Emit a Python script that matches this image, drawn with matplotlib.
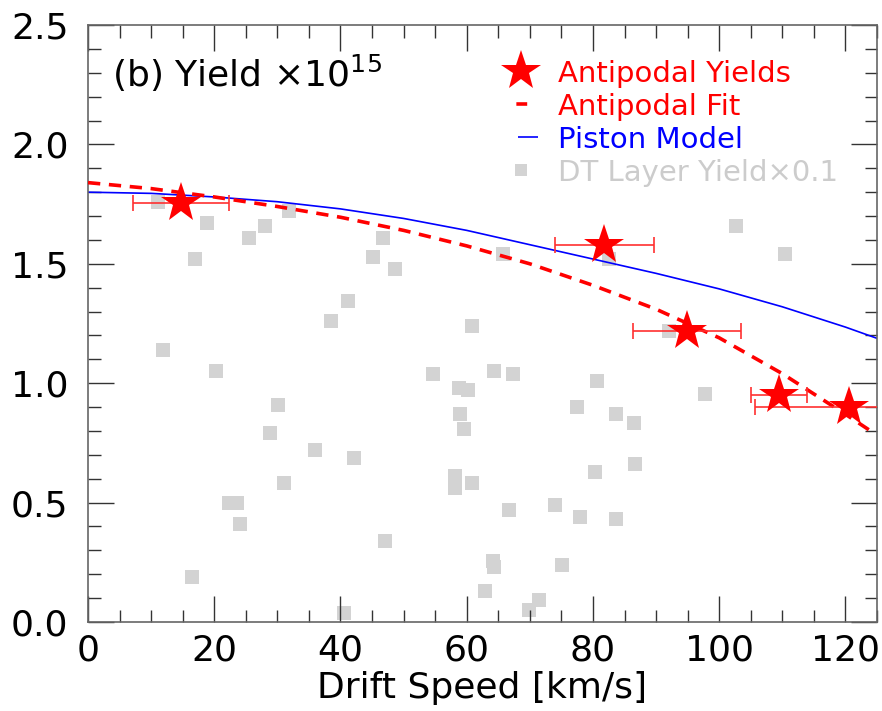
import matplotlib
matplotlib.use("Agg")
import matplotlib.pyplot as plt
from matplotlib.lines import Line2D
from matplotlib.ticker import MultipleLocator

plt.rcParams["font.family"] = ["DejaVu Sans"]
plt.rcParams["mathtext.fontset"] = "dejavusans"

# Antipodal yields (x1e15) with drift speed error bars
star_speed = [14.8, 81.8, 94.9, 109.5, 120.5]
star_yield = [1.753, 1.579, 1.22, 0.95, 0.90]
star_speed_err = [7.6, 7.8, 8.6, 4.4, 14.8]

# Antipodal fit
fit_speed = [0, 10, 20, 30, 40, 50, 60, 70, 80, 90, 100, 110, 120, 124]
fit_yield = [1.84, 1.815, 1.78, 1.74, 1.695, 1.64, 1.575, 1.50, 1.41, 1.31,
             1.19, 1.04, 0.87, 0.80]

# Piston model curve
piston_speed = [0, 10, 20, 30, 40, 50, 60, 70, 80, 90, 100, 110, 120, 125]
piston_yield = [1.80, 1.795, 1.78, 1.76, 1.73, 1.69, 1.64, 1.58, 1.52, 1.46,
                1.395, 1.32, 1.235, 1.188]

# DT layer yield x0.1 (grey squares)
dt_speed = [11.1, 11.9, 16.9, 18.9, 20.2, 16.5, 22.3, 23.6, 24.1, 25.5, 28.0,
            31.9, 28.8, 30.1, 31.0, 35.9, 38.5, 41.2, 42.1, 40.6, 45.1, 46.8,
            48.6, 47.0, 54.6, 58.8, 60.2, 58.9, 59.5, 60.9, 58.2, 58.1, 60.9,
            62.9, 64.1, 64.4, 64.3, 65.8, 66.7, 67.4, 69.8, 71.5, 74.0, 75.1,
            77.4, 77.9, 80.3, 80.6, 82.5, 83.6, 83.6, 86.5, 86.7, 92.0, 97.7,
            102.7, 110.5]
dt_yield = [1.76, 1.14, 1.52, 1.67, 1.05, 0.19, 0.50, 0.50, 0.41, 1.61, 1.66,
            1.72, 0.79, 0.91, 0.58, 0.72, 1.26, 1.345, 0.685, 0.036, 1.53, 1.61,
            1.48, 0.34, 1.04, 0.98, 0.97, 0.87, 0.81, 1.24, 0.61, 0.56, 0.58,
            0.13, 0.255, 0.23, 1.05, 1.54, 0.47, 1.04, 0.05, 0.09, 0.49, 0.24,
            0.90, 0.44, 0.63, 1.01, 1.52, 0.87, 0.43, 0.835, 0.66, 1.22, 0.955,
            1.66, 1.54]

legend_labels = ["Antipodal Yields", "Antipodal Fit", "Piston Model",
                 "DT Layer Yield\u00d70.1"]
legend_colors = ["red", "red", "blue", "#cccccc"]

fig = plt.figure(figsize=(8.82, 7.11), dpi=100)
ax = fig.add_axes([0.0998, 0.1252, 0.8945, 0.8396])

ax.plot(dt_speed, dt_yield, "s", color="#d3d3d3", markersize=9.4,
        markeredgewidth=0, zorder=1)
ax.plot(piston_speed, piston_yield, color="blue", lw=1.2, zorder=2)
ax.plot(fit_speed, fit_yield, color="red", lw=2.6, dashes=(3.4, 2.4), zorder=3)
ax.errorbar(star_speed, star_yield, xerr=star_speed_err, fmt="none",
            ecolor="#ff3030", elinewidth=1.2, capsize=6, capthick=1.2, zorder=4)
ax.plot(star_speed, star_yield, "*", color="red", markersize=30,
        markeredgewidth=0, zorder=5)

ax.set_xlim(0, 125)
ax.set_ylim(0, 2.5)
ax.xaxis.set_major_locator(MultipleLocator(20))
ax.xaxis.set_minor_locator(MultipleLocator(5))
ax.yaxis.set_major_locator(MultipleLocator(0.5))
ax.yaxis.set_minor_locator(MultipleLocator(0.1))
ax.yaxis.set_major_formatter(matplotlib.ticker.FormatStrFormatter("%.1f"))

ax.tick_params(which="both", direction="in", top=True, right=True,
               color="#333333", width=1.0, labelsize=26)
ax.tick_params(which="major", length=19)
ax.tick_params(which="minor", length=9)
ax.tick_params(axis="x", which="major", pad=8)
ax.tick_params(axis="y", which="major", pad=14)
for s in ax.spines.values():
    s.set_color("#666666")
    s.set_linewidth(1.2)

ax.set_xlabel("Drift Speed [km/s]", fontsize=26, labelpad=3)

ax.text(0.030, 0.896, "(b) Yield \u00d710$^{15}$", transform=ax.transAxes,
        fontsize=26, ha="left", va="baseline")

# legend handles: short dash and short line sit at the centre of the handle
handles = [
    Line2D([], [], ls="none", marker="*", color="red", markersize=30,
           markeredgewidth=0),
    Line2D([], [], color="red", lw=2.6, ls=(19.3, (3.0, 20))),
    Line2D([], [], color="blue", lw=1.2, ls=(54.0, (13.0, 50))),
    Line2D([], [], ls="none", marker="s", color="#d3d3d3", markersize=8.5,
           markeredgewidth=0),
]
leg = ax.legend(handles, legend_labels, loc="upper left", frameon=False,
                fontsize=21, labelcolor=legend_colors, handlelength=1.2,
                handletextpad=0.67, labelspacing=0.17, borderpad=0,
                borderaxespad=0, bbox_to_anchor=(0.526, 0.942))

plt.savefig("out.png", dpi=100)
